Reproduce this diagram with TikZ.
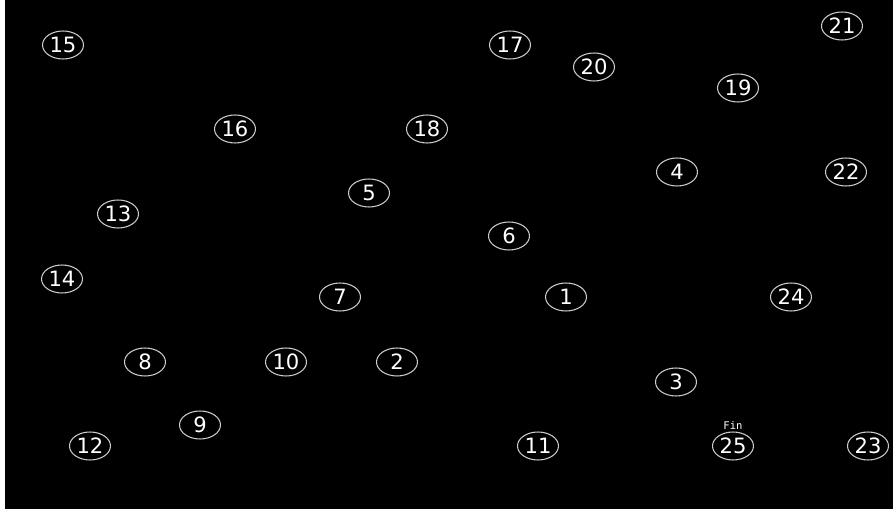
\documentclass[tikz,border=0pt]{standalone}
\usepackage{fontspec}
\setmainfont{DejaVu Sans}
\newfontfamily\finfont{DejaVu Sans Mono}
\usetikzlibrary{shapes.geometric,positioning}

\begin{document}
\begin{tikzpicture}[
    x=0.02cm, y=-0.02cm,
    stop/.style={draw=white!80!black, ellipse, line width=0.6pt, minimum width=0.82cm, minimum height=0.56cm, inner sep=0pt, text=white, font=\fontsize{12}{14}\selectfont},
]

% ============================================================
% BACKGROUND
% ============================================================
\fill[white] (0,0) rectangle (893,509);
\fill[black] (5,0) rectangle (893,509);
\useasboundingbox (0,0) rectangle (893,509);

% ============================================================
% STOPS
% ============================================================
\foreach \id/\px/\py in {
    1/566/297, 2/397/362, 3/676/382, 4/677/172, 5/369/193,
    6/509/236, 7/340/297, 8/145/362, 9/200/425, 10/286/362,
    11/538/446, 12/90/446, 13/118/214, 14/62/279, 15/63/45,
    16/235/129, 17/510/45, 18/427/129, 19/738/88, 20/594/67,
    21/842/26, 22/846/172, 23/868/446, 24/791/297, 25/733/446}
    \node[stop] (n\id) at (\px,\py) {\id};

% End label
\node[font=\finfont\fontsize{6}{7}\selectfont, text=white, above=0pt of n25, inner sep=1pt] (fin) {Fin};

\end{tikzpicture}
\end{document}
